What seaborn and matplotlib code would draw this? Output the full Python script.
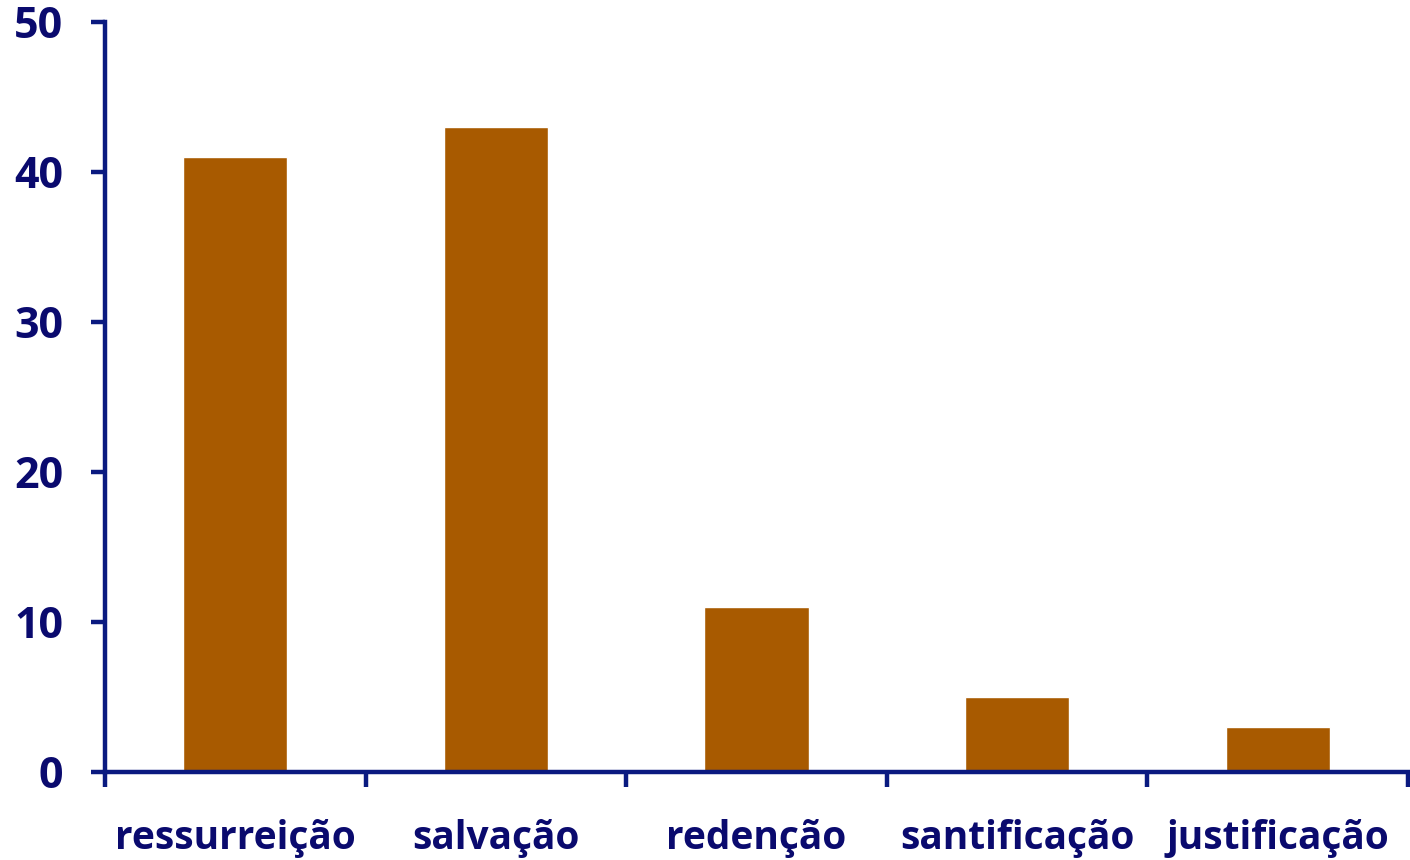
import matplotlib
matplotlib.use("Agg")
import matplotlib.pyplot as plt
import seaborn as sns
import pandas as pd
import numpy as np

categories = ["ressurreição", "salvação", "redenção", "santificação", "justificação"]
values = [41, 43, 11, 5, 3]
yticks = [0, 10, 20, 30, 40, 50]

sns.set_theme(style="white")
plt.rcParams['font.family'] = ['Open Sans', 'DejaVu Sans']

navy = "#0A1A80"
text_c = "#0A0A6E"
bar_c = "#A85A00"

df = pd.DataFrame({"cat": categories, "val": values})

fig = plt.figure(figsize=(14.1, 8.6), dpi=100)
ax = fig.add_axes([105/1410, 88/860, (1408-105)/1410, (772-22)/860])
sns.barplot(data=df, x="cat", y="val", color=bar_c, width=0.4, saturation=1, ax=ax)

ax.set_xlim(-0.5, len(categories) - 0.5)
ax.set_ylim(0, 50)
ax.set_yticks(yticks)
ax.set_xlabel("")
ax.set_ylabel("")

for s in ["top", "right"]:
    ax.spines[s].set_visible(False)
for s in ["left", "bottom"]:
    ax.spines[s].set_color(navy)
    ax.spines[s].set_linewidth(3.2)

ax.set_xticks(np.arange(-0.5, len(categories), 1.0), minor=True)
ax.tick_params(axis="x", which="major", length=0, pad=34, labelsize=28, labelcolor=text_c)
ax.tick_params(axis="x", which="minor", bottom=True, length=11, width=3.2, color=navy, direction="out")
ax.tick_params(axis="y", which="major", length=10, width=3.2, color=navy, direction="out",
               pad=20, labelsize=31, labelcolor=text_c, left=True)
for lbl in ax.get_xticklabels() + ax.get_yticklabels():
    lbl.set_fontweight("bold")

fig.savefig("out.png", dpi=100)
